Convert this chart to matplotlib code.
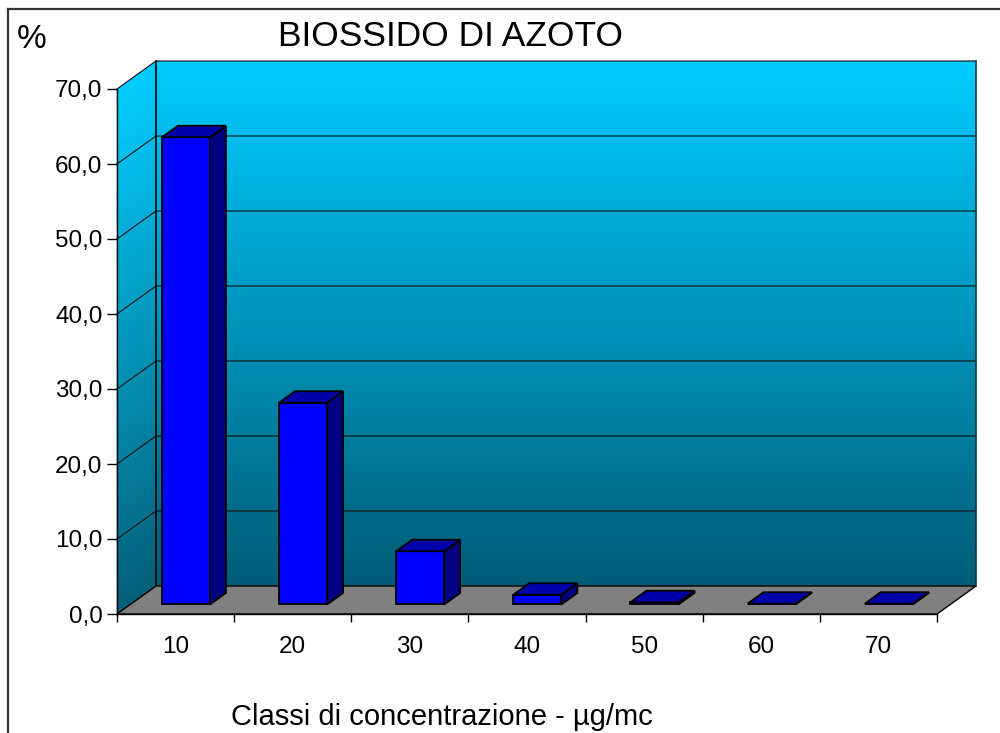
import numpy as np
import matplotlib
matplotlib.use("Agg")
import matplotlib.pyplot as plt
from matplotlib.patches import Polygon
from matplotlib.lines import Line2D
from matplotlib.collections import PolyCollection
from matplotlib.transforms import Affine2D

# ---- data ----
categories = ["10", "20", "30", "40", "50", "60", "70"]
values = [62.3, 26.9, 7.1, 1.3, 0.3, 0.1, 0.1]
yticks = [0, 10, 20, 30, 40, 50, 60, 70]
ytick_labels = ["0,0", "10,0", "20,0", "30,0", "40,0", "50,0", "60,0", "70,0"]
title = "BIOSSIDO DI AZOTO"
ylabel = "%"
xlabel = "Classi di concentrazione - µg/mc"

plt.rcParams['font.family'] = ['Liberation Sans', 'DejaVu Sans']

W, H = 1000, 733
fig = plt.figure(figsize=(W / 100, H / 100), dpi=100)
fig.patch.set_facecolor('white')

ax = fig.add_axes([117 / W, (H - 614) / H, 820 / W, 525 / H])
n = len(categories)
ymax = 70
ax.set_xlim(0, n)
ax.set_ylim(0, ymax)
ax.patch.set_visible(False)

# depth offset (full depth) in data units
DX = 39 / (820 / n)
DY = 28 / (525 / ymax)

# gradient for walls
top_c = np.array([0, 204, 255]) / 255
bot_c = np.array([0, 92, 118]) / 255
t = np.linspace(1, 0, 256)[:, None]
grad = (t * top_c + (1 - t) * bot_c)[:, None, :].repeat(2, axis=1)

# back wall
ax.imshow(grad, extent=[0, n, 0, ymax], aspect='auto', origin='upper',
          transform=Affine2D().translate(DX, DY) + ax.transData,
          clip_on=False, zorder=0, interpolation='bilinear')

# side wall as thin sheared strips
NS = 200
edges = np.linspace(0, ymax, NS + 1)
polys, cols = [], []
for k in range(NS):
    a, b = edges[k], edges[k + 1]
    polys.append([(0, a), (0, b), (DX, b + DY), (DX, a + DY)])
    fr = (a + b) / 2 / ymax
    cols.append(tuple(fr * top_c + (1 - fr) * bot_c))
ax.add_collection(PolyCollection(polys, facecolors=cols, edgecolors=cols, linewidths=0.4,
                                 clip_on=False, zorder=0))

# gridlines
for v in yticks[1:]:
    ax.add_line(Line2D([0, DX, n + DX], [v, v + DY, v + DY], color='#111111',
                       lw=0.8, clip_on=False, zorder=1))
# wall edges
ax.add_line(Line2D([DX, DX], [DY, ymax + DY], color='black', lw=1.2, clip_on=False, zorder=1))
ax.add_line(Line2D([n + DX, n + DX], [DY, ymax + DY], color='#0a3a48', lw=1.2, clip_on=False, zorder=1))

# floor
floor = Polygon([(0, 0), (n, 0), (n + DX, DY), (DX, DY)], closed=True,
                facecolor='#808080', edgecolor='black', lw=1.0, clip_on=False, zorder=1.5)
ax.add_patch(floor)

# bars
bx0, bw = 0.27, 0.41
f0, f1 = 0.34, 0.75
for i, v in enumerate(values):
    x0 = i + bx0 + f0 * DX
    x1 = x0 + bw
    y0 = f0 * DY
    ddx = (f1 - f0) * DX
    ddy = (f1 - f0) * DY
    kw = dict(edgecolor='black', lw=1.3, clip_on=False, zorder=3, joinstyle='miter')
    side = Polygon([(x1, y0), (x1 + ddx, y0 + ddy), (x1 + ddx, y0 + ddy + v), (x1, y0 + v)],
                   facecolor='#000080', **kw)
    front = Polygon([(x0, y0), (x1, y0), (x1, y0 + v), (x0, y0 + v)],
                    facecolor='#0000FF', **kw)
    top = Polygon([(x0, y0 + v), (x1, y0 + v), (x1 + ddx, y0 + v + ddy), (x0 + ddx, y0 + v + ddy)],
                  facecolor='#0000AA', **kw)
    ax.add_patch(side)
    ax.add_patch(front)
    ax.add_patch(top)

# axes / ticks
for s in ['top', 'right']:
    ax.spines[s].set_visible(False)
ax.spines['left'].set_linewidth(1.0)
ax.spines['bottom'].set_linewidth(1.0)
ax.spines['left'].set_zorder(2)
ax.spines['bottom'].set_zorder(2)

ax.set_yticks(yticks)
ax.set_yticklabels(ytick_labels)
ax.tick_params(axis='y', direction='out', length=7, width=1, pad=3.5, labelsize=17.5, colors='black')

ax.set_xticks(np.arange(n + 1))
ax.set_xticklabels([])
ax.set_xticks(np.arange(n) + 0.5, minor=True)
ax.set_xticklabels(categories, minor=True)
ax.tick_params(axis='x', which='major', direction='out', length=6, width=1)
ax.tick_params(axis='x', which='minor', length=0, pad=16, labelsize=17.5)

# texts
fig.text(450 / W, 1 - 36 / H, title, ha='center', va='center', fontsize=25.5)
fig.text(17 / W, 1 - 40 / H, ylabel, ha='left', va='center', fontsize=24)
fig.text(442 / W, 1 - 717 / H, xlabel, ha='center', va='center', fontsize=21)

# outer frame
fig.add_artist(Line2D([8 / W, 8 / W], [0, 1 - 9 / H], transform=fig.transFigure,
                      color='#333333', lw=1.6))
fig.add_artist(Line2D([8 / W, 1], [1 - 9 / H, 1 - 9 / H], transform=fig.transFigure,
                      color='#333333', lw=1.6))

fig.savefig('out.png', dpi=100)
